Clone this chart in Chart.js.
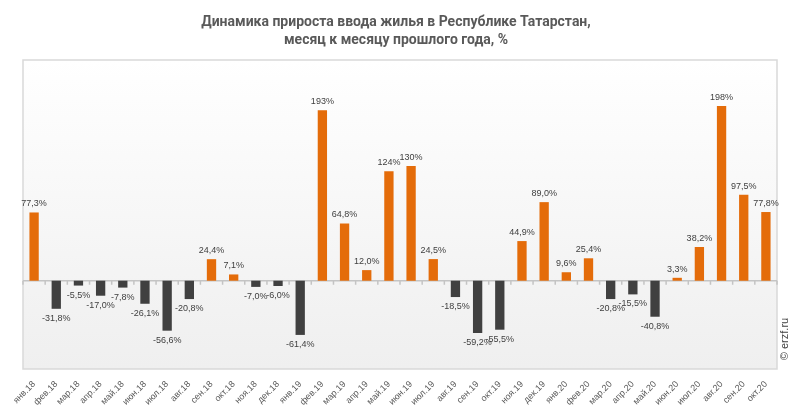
<!DOCTYPE html>
<html>
<head>
<meta charset="utf-8">
<script src="https://cdn.jsdelivr.net/npm/chart.js@4/dist/chart.umd.min.js"></script>
<style>
  body { margin: 0; background: #fff; }
  #wrap { width: 793px; height: 415px; position: relative; }
</style>
</head>
<body>
<div id="wrap"><canvas id="chart"></canvas></div>
<script>
const months = [
    'янв.18', 'фев.18', 'мар.18', 'апр.18', 'май.18', 'июн.18', 'июл.18', 'авг.18', 'сен.18', 'окт.18', 'ноя.18', 'дек.18',
    'янв.19', 'фев.19', 'мар.19', 'апр.19', 'май.19', 'июн.19', 'июл.19', 'авг.19', 'сен.19', 'окт.19', 'ноя.19', 'дек.19',
    'янв.20', 'фев.20', 'мар.20', 'апр.20', 'май.20', 'июн.20', 'июл.20', 'авг.20', 'сен.20', 'окт.20'
];
const growth = [
    77.3, -31.8, -5.5, -17.0, -7.8, -26.1, -56.6, -20.8, 24.4, 7.1, -7.0, -6.0,
    -61.4, 193, 64.8, 12.0, 124, 130, 24.5, -18.5, -59.2, -55.5, 44.9, 89.0,
    9.6, 25.4, -20.8, -15.5, -40.8, 3.3, 38.2, 198, 97.5, 77.8
];
const titleLines = ['Динамика прироста ввода жилья в Республике Татарстан,', 'месяц к месяцу прошлого года, %'];
const watermark = '© erzf.ru';

const ORANGE = '#e46c0a';
const DARK = '#404040';

function fmt(v) {
    if (Math.abs(v) >= 100) return Math.round(v) + '%';
    return v.toFixed(1).replace('.', ',') + '%';
}

// background, frame, zero line, labels
const decor = {
    id: 'decor',
    beforeDatasetsDraw(chart) {
        const { ctx, chartArea: a, scales } = chart;
        ctx.save();
        const g = ctx.createLinearGradient(0, a.top, 0, a.bottom);
        g.addColorStop(0, '#ffffff');
        g.addColorStop(1, '#efefef');
        ctx.fillStyle = g;
        ctx.fillRect(a.left, a.top, a.right - a.left, a.bottom - a.top);
        ctx.strokeStyle = '#d9d9d9';
        ctx.lineWidth = 1.5;
        ctx.strokeRect(a.left, a.top, a.right - a.left, a.bottom - a.top);

        const y0 = scales.y.getPixelForValue(0);
        const step = (a.right - a.left) / months.length;
        ctx.strokeStyle = '#c4c4c4';
        ctx.lineWidth = 1.5;
        ctx.beginPath();
        ctx.moveTo(a.left, y0);
        ctx.lineTo(a.right, y0);
        for (let i = 0; i <= months.length; i++) {
            const x = a.left + i * step;
            ctx.moveTo(x, y0);
            ctx.lineTo(x, y0 + 4);
        }
        ctx.stroke();
        ctx.restore();
    },
    afterDatasetsDraw(chart) {
        const { ctx } = chart;
        const meta = chart.getDatasetMeta(0);
        ctx.save();
        ctx.font = '9px "Liberation Sans", Arial, sans-serif';
        ctx.fillStyle = '#404040';
        ctx.textAlign = 'center';
        meta.data.forEach((bar, i) => {
            const v = growth[i];
            if (v >= 0) {
                ctx.textBaseline = 'bottom';
                ctx.fillText(fmt(v), bar.x, bar.y - 4);
            } else {
                ctx.textBaseline = 'top';
                ctx.fillText(fmt(v), bar.x, bar.y + 5);
            }
        });

        ctx.font = 'bold 14px Roboto, sans-serif';
        ctx.fillStyle = '#595959';
        ctx.textBaseline = 'middle';
        ctx.fillText(titleLines[0], 396, 22);
        ctx.fillText(titleLines[1], 396, 40);

        ctx.translate(785, 339);
        ctx.rotate(-Math.PI / 2);
        ctx.font = '11px "Liberation Sans", Arial, sans-serif';
        ctx.fillStyle = '#404040';
        ctx.fillText(watermark, 0, 0);
        ctx.restore();
    }
};

new Chart(document.getElementById('chart'), {
    type: 'bar',
    data: {
        labels: months,
        datasets: [{
            data: growth,
            backgroundColor: growth.map(v => v >= 0 ? ORANGE : DARK),
            barPercentage: 0.42,
            categoryPercentage: 1
        }]
    },
    options: {
        responsive: true,
        maintainAspectRatio: false,
        animation: false,
        layout: { padding: { left: 23, right: 16, top: 60, bottom: 0 } },
        plugins: {
            legend: { display: false },
            tooltip: { enabled: false }
        },
        scales: {
            x: {
                grid: { display: false },
                border: { display: false },
                ticks: {
                    color: '#595959',
                    font: { size: 9, family: '"Liberation Sans", Arial, sans-serif' },
                    minRotation: 45,
                    maxRotation: 45,
                    autoSkip: false,
                    padding: 2
                },
                afterFit(scale) { scale.height = 46; }
            },
            y: {
                display: false,
                min: -100,
                max: 250
            }
        }
    },
    plugins: [decor]
});
</script>
</body>
</html>
